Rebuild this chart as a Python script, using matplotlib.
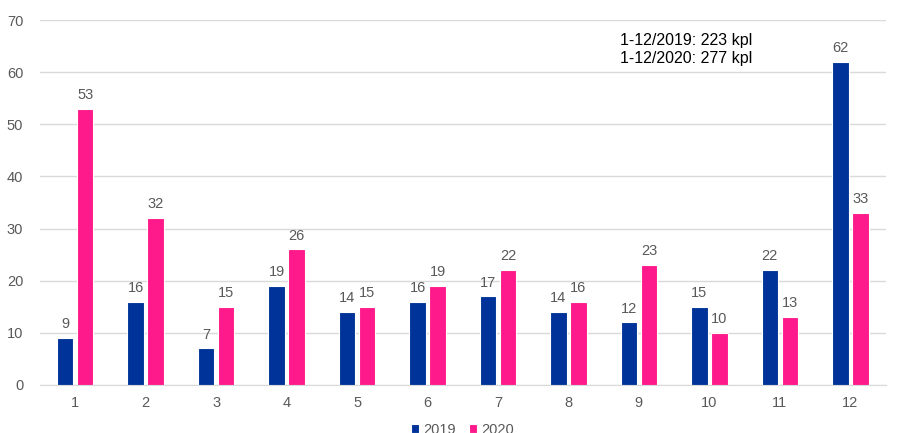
import matplotlib.pyplot as plt
import numpy as np

plt.rcParams["font.family"] = ["Liberation Sans", "DejaVu Sans"]

# monthly counts, 2019 vs 2020
months = ["1", "2", "3", "4", "5", "6", "7", "8", "9", "10", "11", "12"]
vals_2019 = [9, 16, 7, 19, 14, 16, 17, 14, 12, 15, 22, 62]
vals_2020 = [53, 32, 15, 26, 15, 19, 22, 16, 23, 10, 13, 33]
totals = {"2019": 223, "2020": 277}

BLUE = "#003399"
PINK = "#FF1A8C"
TXT = "#595959"

fig = plt.figure(figsize=(9.23, 4.33), dpi=100)
ax = fig.add_axes([0.0433, 0.1109, 0.9161, 0.8429])

x = np.arange(len(months))
w = 0.235
b1 = ax.bar(x - 0.142, vals_2019, w, color=BLUE, edgecolor="white", linewidth=0.8, label="2019", zorder=3)
b2 = ax.bar(x + 0.142, vals_2020, w, color=PINK, edgecolor="white", linewidth=0.8, label="2020", zorder=3)

for bars in (b1, b2):
    for r in bars:
        ax.text(r.get_x() + r.get_width() / 2, r.get_height() + 1.3, f"{int(r.get_height())}",
                ha="center", va="bottom", fontsize=10.5, color=TXT)

ax.set_xlim(-0.5, len(months) - 0.5)
ax.set_ylim(0, 70)
ax.set_yticks(range(0, 71, 10))
ax.set_xticks(x)
ax.set_xticklabels(months)
ax.tick_params(axis="both", length=0, labelsize=10.5, labelcolor=TXT)
ax.tick_params(axis="y", pad=12)
ax.tick_params(axis="x", pad=8)
ax.grid(axis="y", color="#D9D9D9", linewidth=1, zorder=0)
for s in ["top", "right", "left"]:
    ax.spines[s].set_visible(False)
ax.spines["bottom"].set_color("#D9D9D9")

ax.text(0.686, 0.919, f"1-12/2019: {totals['2019']} kpl\n1-12/2020: {totals['2020']} kpl",
        transform=ax.transAxes, ha="left", va="center", fontsize=11.5, color="black", linespacing=1.3)

leg = ax.legend(loc="upper center", bbox_to_anchor=(0.5, -0.075), ncol=2, frameon=False,
                fontsize=10.5, handlelength=0.55, handleheight=0.55, handletextpad=0.3,
                columnspacing=0.9, borderpad=0.2)
for t in leg.get_texts():
    t.set_color(TXT)

fig.savefig("out.png", dpi=100)
